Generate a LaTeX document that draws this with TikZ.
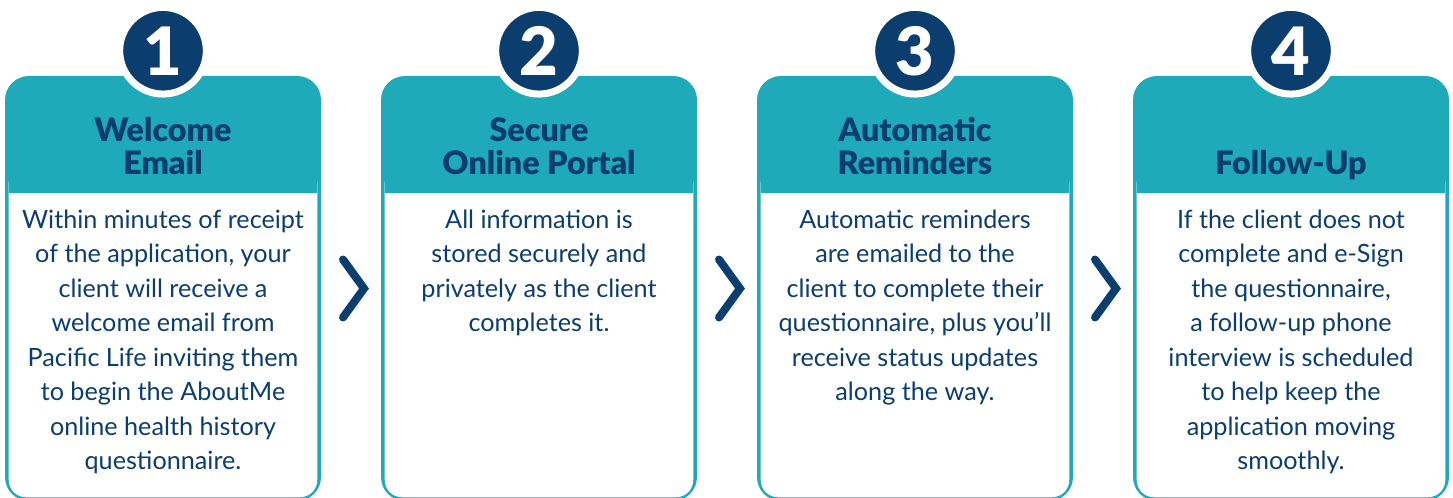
\documentclass[tikz,border=0pt]{standalone}
\usepackage{fontspec}
\setmainfont{Lato}
\newfontfamily\heavyfont{Lato Black}
\usetikzlibrary{calc,positioning}
\definecolor{NavyBlue}{HTML}{0B3E6F}
\definecolor{TealCard}{HTML}{1EAAB9}

\begin{document}
\begin{tikzpicture}[
    x=0.75pt, y=-0.75pt,
    card/.style={rectangle,rounded corners=18pt,fill=TealCard,
      minimum width=237pt,minimum height=318.75pt,inner sep=0pt},
    numcirc/.style={circle,fill=NavyBlue,draw=white,line width=5.25pt,
      minimum size=65pt,inner sep=0pt,text=white,font=\fontsize{50}{50}\selectfont\heavyfont},
    ttl/.style={font=\fontsize{24.2}{24.75}\selectfont\heavyfont,text=NavyBlue,align=center,inner sep=0pt},
    txt/.style={font=\fontsize{18.9}{25.9}\selectfont,text=NavyBlue,align=center,inner sep=0pt,anchor=north},
    chev/.style={draw=NavyBlue,line width=6pt,line cap=round},
  ]
  \useasboundingbox (0,0) rectangle (1453,498);
  % Cards
  \node[card] (c1) at (163,288.5) {};
  \node[card] (c2) at (539,288.5) {};
  \node[card] (c3) at (915,288.5) {};
  \node[card] (c4) at (1291,288.5) {};
  % White bodies, square at the top
  \fill[white,rounded corners=13pt] ($(c1.south west)+(4,-4)$) rectangle ($(c1.north east)+(-4,90)$);
  \fill[white,rounded corners=13pt] ($(c2.south west)+(4,-4)$) rectangle ($(c2.north east)+(-4,90)$);
  \fill[white,rounded corners=13pt] ($(c3.south west)+(4,-4)$) rectangle ($(c3.north east)+(-4,90)$);
  \fill[white,rounded corners=13pt] ($(c4.south west)+(4,-4)$) rectangle ($(c4.north east)+(-4,90)$);
  \fill[TealCard] ($(c1.north west)+(4,70)$) rectangle ($(c1.north east)+(-4,117)$);
  \fill[TealCard] ($(c2.north west)+(4,70)$) rectangle ($(c2.north east)+(-4,117)$);
  \fill[TealCard] ($(c3.north west)+(4,70)$) rectangle ($(c3.north east)+(-4,117)$);
  \fill[TealCard] ($(c4.north west)+(4,70)$) rectangle ($(c4.north east)+(-4,117)$);
  % Numbers
  \node[numcirc] (n1) at ($(c1.north)+(0,-25)$) {1};
  \node[numcirc] (n2) at ($(c2.north)+(0,-25)$) {2};
  \node[numcirc] (n3) at ($(c3.north)+(0,-25)$) {3};
  \node[numcirc] (n4) at ($(c4.north)+(0,-25)$) {4};
  % Titles
  \node[ttl] (t1) at ($(c1.north)+(0,70.5)$) {Welcome\\Email};
  \node[ttl] (t2) at ($(c2.north)+(0,70.5)$) {Secure\\Online Portal};
  \node[ttl] (t3) at ($(c3.north)+(0,70.5)$) {Automatic\\Reminders};
  \node[ttl] (t4) at ($(c4.north)+(0,89)$) {Follow-Up};
  % Body texts
  \node[txt] (b1) at ($(c1.north)+(0,133.5)$) {Within minutes of receipt\\of the application, your\\client will receive a\\welcome email from\\Pacific Life inviting them\\to begin the AboutMe\\online health history\\questionnaire.};
  \node[txt] (b2) at ($(c2.north)+(0,133.5)$) {All information is\\stored securely and\\privately as the client\\completes it.};
  \node[txt] (b3) at ($(c3.north)+(0,133.5)$) {Automatic reminders\\are emailed to the\\client to complete their\\questionnaire, plus you’ll\\receive status updates\\along the way.};
  \node[txt] (b4) at ($(c4.north)+(0,133.5)$) {If the client does not\\complete and e-Sign\\the questionnaire,\\a follow-up phone\\interview is scheduled\\to help keep the\\application moving\\smoothly.};
  % Chevrons between cards
  \draw[chev] ($(c1.east)!0.5!(c2.west)+(-8,-29)$) -- ++(21,29) -- ++(-21,29);
  \draw[chev] ($(c2.east)!0.5!(c3.west)+(-8,-29)$) -- ++(21,29) -- ++(-21,29);
  \draw[chev] ($(c3.east)!0.5!(c4.west)+(-8,-29)$) -- ++(21,29) -- ++(-21,29);
\end{tikzpicture}
\end{document}
